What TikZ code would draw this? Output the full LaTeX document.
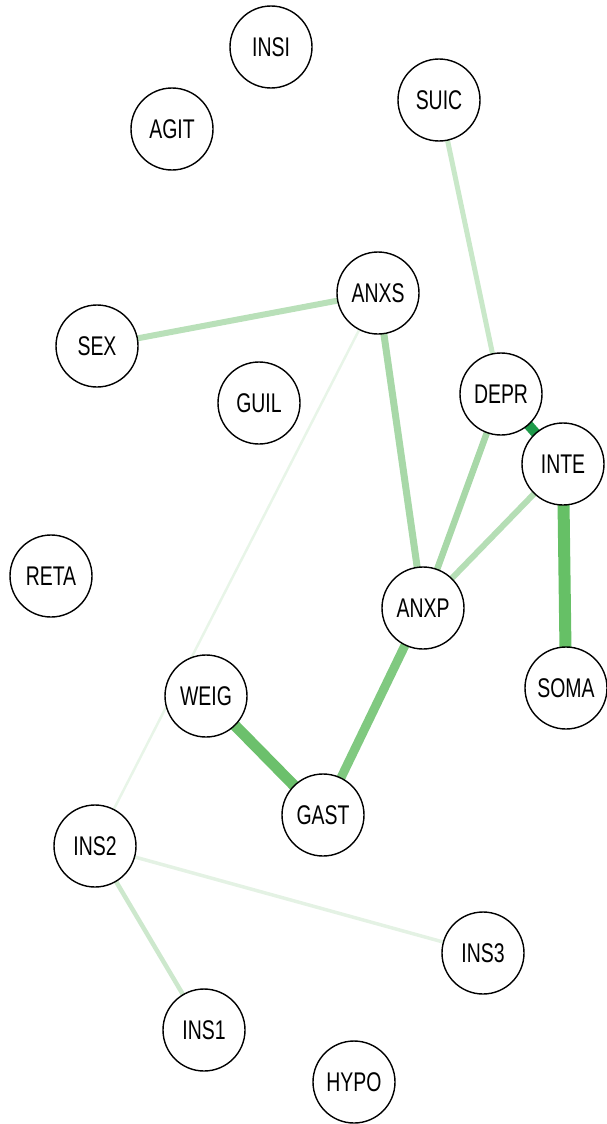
\documentclass[tikz,border=0pt]{standalone}
\usepackage{fontspec}
\setmainfont[FakeStretch=0.72]{Liberation Sans}
\begin{document}
\begin{tikzpicture}[x=1pt,y=-1pt,
  vnode/.style={circle,draw=black,line width=1.4pt,fill=white,minimum size=82pt,inner sep=0pt,font=\fontsize{27}{27}\selectfont},
  edge/.style={line cap=butt}]
\useasboundingbox (0,0) rectangle (606,1124);
\definecolor{e1}{HTML}{C9E8C9}
\definecolor{e2}{HTML}{B9E0B9}
\definecolor{e3}{HTML}{A8D8A8}
\definecolor{e4}{HTML}{E8F5E8}
\definecolor{e5}{HTML}{1E9A4A}
\definecolor{e6}{HTML}{B5DEB5}
\definecolor{e7}{HTML}{66C066}
\definecolor{e8}{HTML}{80C980}
\definecolor{e9}{HTML}{6CC06C}
\definecolor{e10}{HTML}{E4F2E4}
\definecolor{e11}{HTML}{CDE8CD}
% coordinates for node centres
\coordinate (cINSI) at (271,47);
\coordinate (cAGIT) at (172,129);
\coordinate (cSUIC) at (439,100);
\coordinate (cANXS) at (378,293);
\coordinate (cSEX) at (97,346);
\coordinate (cGUIL) at (259,403);
\coordinate (cDEPR) at (501,394);
\coordinate (cINTE) at (563,464);
\coordinate (cRETA) at (51,576);
\coordinate (cANXP) at (423,608);
\coordinate (cSOMA) at (566,688);
\coordinate (cWEIG) at (206,696);
\coordinate (cGAST) at (323,815);
\coordinate (cINS2) at (95,846);
\coordinate (cINS3) at (483,953);
\coordinate (cINS1) at (204,1030);
\coordinate (cHYPO) at (354,1082);
% edges
\draw[edge,e1,line width=5pt] (cSUIC) -- (cDEPR);
\draw[edge,e2,line width=6pt] (cANXS) -- (cSEX);
\draw[edge,e3,line width=7pt] (cANXS) -- (cANXP);
\draw[edge,e4,line width=2.5pt] (cANXS) -- (cINS2);
\draw[edge,e5,line width=10pt] (cDEPR) -- (cINTE);
\draw[edge,e3,line width=6.5pt] (cDEPR) -- (cANXP);
\draw[edge,e6,line width=6pt] (cINTE) -- (cANXP);
\draw[edge,e7,line width=12pt] (cINTE) -- (cSOMA);
\draw[edge,e8,line width=9pt] (cANXP) -- (cGAST);
\draw[edge,e9,line width=11pt] (cWEIG) -- (cGAST);
\draw[edge,e10,line width=3.5pt] (cINS2) -- (cINS3);
\draw[edge,e11,line width=4.5pt] (cINS2) -- (cINS1);
% nodes
\foreach \n in {INSI,AGIT,SUIC,ANXS,SEX,GUIL,DEPR,INTE,RETA,ANXP,SOMA,WEIG,GAST,INS2,INS3,INS1,HYPO}
  \node[vnode] (\n) at (c\n) {\n};
\end{tikzpicture}
\end{document}
